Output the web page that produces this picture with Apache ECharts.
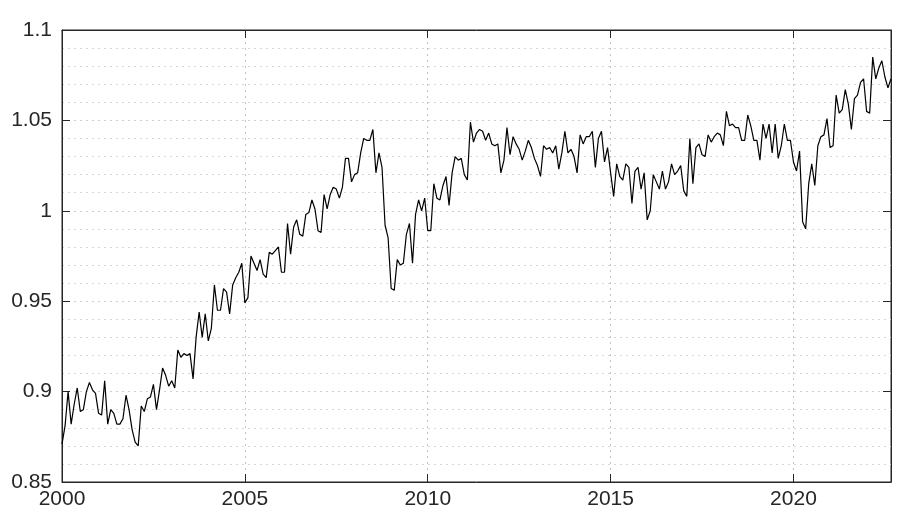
<!DOCTYPE html>
<html>
<head>
<meta charset="utf-8">
<title>index</title>
<script src="https://cdn.jsdelivr.net/npm/echarts@6/dist/echarts.min.js"></script>
<style>
    html, body { margin: 0; padding: 0; background: #fff; }
    #chart { width: 915px; height: 532px; }
</style>
</head>
<body>
<div id="chart"></div>
<script>
// monthly values, Jan 2000 .. Sep 2022
var startYear = 2000
var monthValues = [
    0.871, 0.881, 0.900, 0.882, 0.893, 0.902, 0.889, 0.890, 0.900, 0.905,
    0.901, 0.899, 0.888, 0.887, 0.906, 0.882, 0.890, 0.888, 0.882, 0.882,
    0.885, 0.898, 0.890, 0.879, 0.872, 0.870, 0.892, 0.889, 0.896, 0.897,
    0.904, 0.890, 0.901, 0.913, 0.909, 0.903, 0.906, 0.902, 0.923, 0.919,
    0.921, 0.920, 0.921, 0.907, 0.930, 0.944, 0.930, 0.943, 0.928, 0.935,
    0.959, 0.945, 0.945, 0.957, 0.955, 0.943, 0.959, 0.963, 0.966, 0.971,
    0.949, 0.952, 0.975, 0.971, 0.967, 0.973, 0.965, 0.963, 0.977, 0.976,
    0.978, 0.980, 0.966, 0.966, 0.993, 0.976, 0.991, 0.995, 0.987, 0.986,
    0.998, 0.999, 1.006, 1.001, 0.989, 0.988, 1.009, 1.001, 1.009, 1.013,
    1.012, 1.007, 1.013, 1.029, 1.029, 1.016, 1.020, 1.021, 1.032, 1.040,
    1.039, 1.039, 1.045, 1.021, 1.032, 1.024, 0.992, 0.985, 0.957, 0.956,
    0.973, 0.970, 0.971, 0.987, 0.993, 0.971, 0.998, 1.006, 1.000, 1.007,
    0.989, 0.989, 1.015, 1.007, 1.006, 1.014, 1.019, 1.003, 1.021, 1.030,
    1.028, 1.029, 1.020, 1.017, 1.049, 1.038, 1.043, 1.045, 1.044, 1.039,
    1.043, 1.037, 1.036, 1.037, 1.021, 1.028, 1.046, 1.031, 1.041, 1.037,
    1.034, 1.028, 1.033, 1.039, 1.035, 1.029, 1.025, 1.019, 1.036, 1.034,
    1.035, 1.032, 1.036, 1.023, 1.032, 1.044, 1.032, 1.034, 1.030, 1.021,
    1.042, 1.037, 1.041, 1.041, 1.044, 1.024, 1.040, 1.044, 1.027, 1.035,
    1.021, 1.008, 1.026, 1.019, 1.017, 1.026, 1.024, 1.004, 1.022, 1.024,
    1.012, 1.021, 0.995, 1.000, 1.020, 1.016, 1.012, 1.022, 1.012, 1.016,
    1.026, 1.020, 1.022, 1.025, 1.011, 1.008, 1.040, 1.015, 1.035, 1.037,
    1.031, 1.030, 1.042, 1.038, 1.041, 1.043, 1.042, 1.036, 1.055, 1.047,
    1.048, 1.046, 1.046, 1.039, 1.039, 1.053, 1.047, 1.039, 1.039, 1.028,
    1.048, 1.040, 1.048, 1.032, 1.048, 1.029, 1.036, 1.048, 1.039, 1.039,
    1.027, 1.022, 1.033, 0.994, 0.990, 1.015, 1.026, 1.014, 1.036, 1.041,
    1.042, 1.051, 1.035, 1.036, 1.064, 1.054, 1.056, 1.067, 1.059, 1.045,
    1.062, 1.064, 1.071, 1.073, 1.055, 1.054, 1.085, 1.073, 1.079, 1.083,
    1.074, 1.068, 1.073
]
var xTicks = [2000, 2005, 2010, 2015, 2020]
var yTicks = [0.85, 0.9, 0.95, 1, 1.05, 1.1]

var points = monthValues.map(function (v, i) {
    return [startYear + i / 12, v]
})
var xMin = startYear
var xMax = startYear + (monthValues.length - 1) / 12

var axisColor = '#262626'
var labelFont = { color: '#262626', fontSize: 21, fontFamily: 'Liberation Sans, Arial, sans-serif' }

function xLabel(val) {
    return xTicks.indexOf(Math.round(val * 1000) / 1000) >= 0 ? String(Math.round(val)) : ''
}
function yLabel(val) {
    var r = Math.round(val * 1000) / 1000
    return yTicks.indexOf(r) >= 0 ? String(r) : ''
}

var chart = echarts.init(document.getElementById('chart'), null, { renderer: 'canvas' })
chart.setOption({
    animation: false,
    backgroundColor: '#fff',
    grid: {
        left: 62,
        right: 24,
        top: 30,
        bottom: 50,
        show: true,
        borderColor: axisColor,
        borderWidth: 1
    },
    xAxis: [{
        type: 'value',
        min: xMin,
        max: xMax,
        interval: 5,
        axisLine: { show: true, onZero: false, lineStyle: { color: axisColor } },
        axisTick: { show: true, inside: true, length: 8, lineStyle: { color: axisColor } },
        axisLabel: Object.assign({ margin: 7, formatter: xLabel, showMaxLabel: false }, labelFont),
        splitLine: {
            show: true,
            lineStyle: { color: '#c4c4c4', type: [2, 4], width: 1 }
        }
    }, {
        type: 'value',
        position: 'top',
        min: xMin,
        max: xMax,
        interval: 5,
        axisLine: { show: true, onZero: false, lineStyle: { color: axisColor } },
        axisTick: { show: true, inside: true, length: 8, lineStyle: { color: axisColor } },
        axisLabel: { show: false },
        splitLine: { show: false }
    }],
    yAxis: [{
        type: 'value',
        min: 0.85,
        max: 1.1,
        interval: 0.05,
        axisLine: { show: true, onZero: false, lineStyle: { color: axisColor } },
        axisTick: { show: true, inside: true, length: 8, lineStyle: { color: axisColor } },
        axisLabel: Object.assign({ margin: 10, formatter: yLabel }, labelFont),
        minorTick: { show: false, splitNumber: 5 },
        splitLine: {
            show: true,
            lineStyle: { color: '#cfcfcf', type: [2, 4], width: 1 }
        },
        minorSplitLine: {
            show: true,
            lineStyle: { color: '#d6d6d6', type: [2, 4], width: 1 }
        }
    }, {
        type: 'value',
        position: 'right',
        min: 0.85,
        max: 1.1,
        interval: 0.05,
        axisLine: { show: true, onZero: false, lineStyle: { color: axisColor } },
        axisTick: { show: true, inside: true, length: 8, lineStyle: { color: axisColor } },
        axisLabel: { show: false },
        splitLine: { show: false }
    }],
    series: [{
        type: 'line',
        xAxisIndex: 0,
        yAxisIndex: 0,
        data: points,
        showSymbol: false,
        symbol: 'none',
        lineStyle: { color: '#000', width: 1.2 },
        silent: true
    }]
})
</script>
</body>
</html>
